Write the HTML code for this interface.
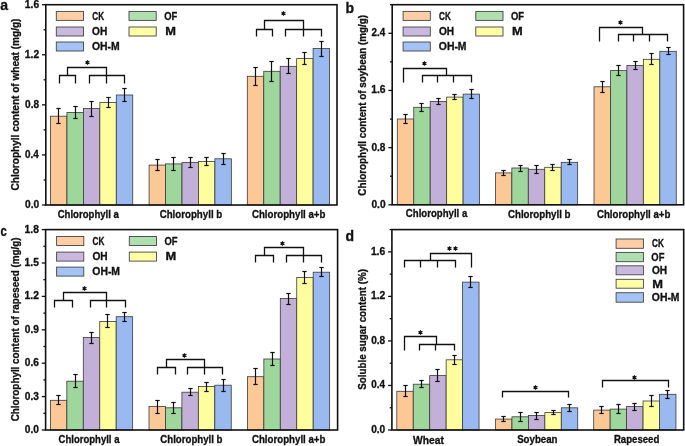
<!DOCTYPE html>
<html><head><meta charset="utf-8"><style>
html,body{margin:0;padding:0;background:#fff;}
svg{display:block;filter:grayscale(0);}
text{font-family:"Liberation Sans",sans-serif;font-weight:bold;fill:#111;stroke:#111;stroke-width:0.3px;}
</style></head><body>
<svg width="685" height="446" viewBox="0 0 685 446">
<rect width="685" height="446" fill="#fff"/>
<rect x="50.50" y="116.20" width="16.45" height="88.80" fill="#FCC895" stroke="#3a3a3a" stroke-width="0.8"/>
<rect x="66.95" y="112.40" width="16.45" height="92.60" fill="#9ED69C" stroke="#3a3a3a" stroke-width="0.8"/>
<rect x="83.40" y="108.40" width="16.45" height="96.60" fill="#C2B0D8" stroke="#3a3a3a" stroke-width="0.8"/>
<rect x="99.85" y="102.40" width="16.45" height="102.60" fill="#FFFE9E" stroke="#3a3a3a" stroke-width="0.8"/>
<rect x="116.30" y="95.00" width="16.45" height="110.00" fill="#99B9F0" stroke="#3a3a3a" stroke-width="0.8"/>
<rect x="149.10" y="165.10" width="16.45" height="39.90" fill="#FCC895" stroke="#3a3a3a" stroke-width="0.8"/>
<rect x="165.55" y="163.90" width="16.45" height="41.10" fill="#9ED69C" stroke="#3a3a3a" stroke-width="0.8"/>
<rect x="182.00" y="162.60" width="16.45" height="42.40" fill="#C2B0D8" stroke="#3a3a3a" stroke-width="0.8"/>
<rect x="198.45" y="161.50" width="16.45" height="43.50" fill="#FFFE9E" stroke="#3a3a3a" stroke-width="0.8"/>
<rect x="214.90" y="158.80" width="16.45" height="46.20" fill="#99B9F0" stroke="#3a3a3a" stroke-width="0.8"/>
<rect x="247.30" y="76.30" width="16.45" height="128.70" fill="#FCC895" stroke="#3a3a3a" stroke-width="0.8"/>
<rect x="263.75" y="71.30" width="16.45" height="133.70" fill="#9ED69C" stroke="#3a3a3a" stroke-width="0.8"/>
<rect x="280.20" y="66.30" width="16.45" height="138.70" fill="#C2B0D8" stroke="#3a3a3a" stroke-width="0.8"/>
<rect x="296.65" y="58.60" width="16.45" height="146.40" fill="#FFFE9E" stroke="#3a3a3a" stroke-width="0.8"/>
<rect x="313.10" y="48.50" width="16.45" height="156.50" fill="#99B9F0" stroke="#3a3a3a" stroke-width="0.8"/>
<line x1="58.50" y1="108.50" x2="58.50" y2="123.50" stroke="#111" stroke-width="1.2"/>
<line x1="56.30" y1="108.50" x2="60.70" y2="108.50" stroke="#111" stroke-width="1.2"/>
<line x1="56.30" y1="123.50" x2="60.70" y2="123.50" stroke="#111" stroke-width="1.2"/>
<line x1="75.50" y1="106.50" x2="75.50" y2="118.50" stroke="#111" stroke-width="1.2"/>
<line x1="73.30" y1="106.50" x2="77.70" y2="106.50" stroke="#111" stroke-width="1.2"/>
<line x1="73.30" y1="118.50" x2="77.70" y2="118.50" stroke="#111" stroke-width="1.2"/>
<line x1="91.50" y1="101.50" x2="91.50" y2="116.50" stroke="#111" stroke-width="1.2"/>
<line x1="89.30" y1="101.50" x2="93.70" y2="101.50" stroke="#111" stroke-width="1.2"/>
<line x1="89.30" y1="116.50" x2="93.70" y2="116.50" stroke="#111" stroke-width="1.2"/>
<line x1="108.50" y1="97.50" x2="108.50" y2="107.50" stroke="#111" stroke-width="1.2"/>
<line x1="106.30" y1="97.50" x2="110.70" y2="97.50" stroke="#111" stroke-width="1.2"/>
<line x1="106.30" y1="107.50" x2="110.70" y2="107.50" stroke="#111" stroke-width="1.2"/>
<line x1="124.50" y1="88.50" x2="124.50" y2="101.50" stroke="#111" stroke-width="1.2"/>
<line x1="122.30" y1="88.50" x2="126.70" y2="88.50" stroke="#111" stroke-width="1.2"/>
<line x1="122.30" y1="101.50" x2="126.70" y2="101.50" stroke="#111" stroke-width="1.2"/>
<line x1="157.50" y1="159.50" x2="157.50" y2="170.50" stroke="#111" stroke-width="1.2"/>
<line x1="155.30" y1="159.50" x2="159.70" y2="159.50" stroke="#111" stroke-width="1.2"/>
<line x1="155.30" y1="170.50" x2="159.70" y2="170.50" stroke="#111" stroke-width="1.2"/>
<line x1="173.50" y1="157.50" x2="173.50" y2="170.50" stroke="#111" stroke-width="1.2"/>
<line x1="171.30" y1="157.50" x2="175.70" y2="157.50" stroke="#111" stroke-width="1.2"/>
<line x1="171.30" y1="170.50" x2="175.70" y2="170.50" stroke="#111" stroke-width="1.2"/>
<line x1="190.50" y1="157.50" x2="190.50" y2="167.50" stroke="#111" stroke-width="1.2"/>
<line x1="188.30" y1="157.50" x2="192.70" y2="157.50" stroke="#111" stroke-width="1.2"/>
<line x1="188.30" y1="167.50" x2="192.70" y2="167.50" stroke="#111" stroke-width="1.2"/>
<line x1="206.50" y1="157.50" x2="206.50" y2="165.50" stroke="#111" stroke-width="1.2"/>
<line x1="204.30" y1="157.50" x2="208.70" y2="157.50" stroke="#111" stroke-width="1.2"/>
<line x1="204.30" y1="165.50" x2="208.70" y2="165.50" stroke="#111" stroke-width="1.2"/>
<line x1="223.50" y1="153.50" x2="223.50" y2="164.50" stroke="#111" stroke-width="1.2"/>
<line x1="221.30" y1="153.50" x2="225.70" y2="153.50" stroke="#111" stroke-width="1.2"/>
<line x1="221.30" y1="164.50" x2="225.70" y2="164.50" stroke="#111" stroke-width="1.2"/>
<line x1="255.50" y1="67.50" x2="255.50" y2="85.50" stroke="#111" stroke-width="1.2"/>
<line x1="253.30" y1="67.50" x2="257.70" y2="67.50" stroke="#111" stroke-width="1.2"/>
<line x1="253.30" y1="85.50" x2="257.70" y2="85.50" stroke="#111" stroke-width="1.2"/>
<line x1="271.50" y1="61.50" x2="271.50" y2="81.50" stroke="#111" stroke-width="1.2"/>
<line x1="269.30" y1="61.50" x2="273.70" y2="61.50" stroke="#111" stroke-width="1.2"/>
<line x1="269.30" y1="81.50" x2="273.70" y2="81.50" stroke="#111" stroke-width="1.2"/>
<line x1="288.50" y1="58.50" x2="288.50" y2="73.50" stroke="#111" stroke-width="1.2"/>
<line x1="286.30" y1="58.50" x2="290.70" y2="58.50" stroke="#111" stroke-width="1.2"/>
<line x1="286.30" y1="73.50" x2="290.70" y2="73.50" stroke="#111" stroke-width="1.2"/>
<line x1="304.50" y1="52.50" x2="304.50" y2="64.50" stroke="#111" stroke-width="1.2"/>
<line x1="302.30" y1="52.50" x2="306.70" y2="52.50" stroke="#111" stroke-width="1.2"/>
<line x1="302.30" y1="64.50" x2="306.70" y2="64.50" stroke="#111" stroke-width="1.2"/>
<line x1="321.50" y1="41.50" x2="321.50" y2="56.50" stroke="#111" stroke-width="1.2"/>
<line x1="319.30" y1="41.50" x2="323.70" y2="41.50" stroke="#111" stroke-width="1.2"/>
<line x1="319.30" y1="56.50" x2="323.70" y2="56.50" stroke="#111" stroke-width="1.2"/>
<rect x="45.80" y="4.70" width="291.20" height="200.30" fill="none" stroke="#111" stroke-width="1.6"/>
<line x1="42.00" y1="205.00" x2="45.80" y2="205.00" stroke="#111" stroke-width="1.3"/>
<text x="25.05" y="207.90" font-size="10" textLength="14.12" lengthAdjust="spacingAndGlyphs" >0.0</text>
<line x1="43.60" y1="179.96" x2="45.80" y2="179.96" stroke="#111" stroke-width="1.3"/>
<line x1="42.00" y1="154.93" x2="45.80" y2="154.93" stroke="#111" stroke-width="1.3"/>
<text x="25.06" y="157.83" font-size="10" textLength="13.74" lengthAdjust="spacingAndGlyphs" >0.4</text>
<line x1="43.60" y1="129.89" x2="45.80" y2="129.89" stroke="#111" stroke-width="1.3"/>
<line x1="42.00" y1="104.85" x2="45.80" y2="104.85" stroke="#111" stroke-width="1.3"/>
<text x="25.05" y="107.75" font-size="10" textLength="14.01" lengthAdjust="spacingAndGlyphs" >0.8</text>
<line x1="43.60" y1="79.81" x2="45.80" y2="79.81" stroke="#111" stroke-width="1.3"/>
<line x1="42.00" y1="54.77" x2="45.80" y2="54.77" stroke="#111" stroke-width="1.3"/>
<text x="24.80" y="57.67" font-size="10" textLength="14.36" lengthAdjust="spacingAndGlyphs" >1.2</text>
<line x1="43.60" y1="29.74" x2="45.80" y2="29.74" stroke="#111" stroke-width="1.3"/>
<line x1="42.00" y1="4.70" x2="45.80" y2="4.70" stroke="#111" stroke-width="1.3"/>
<text x="24.80" y="7.60" font-size="10" textLength="14.32" lengthAdjust="spacingAndGlyphs" >1.6</text>
<polyline points="59.50,83.50 59.50,75.50 75.50,75.50 75.50,83.50" fill="none" stroke="#111" stroke-width="1.3" stroke-linejoin="miter" stroke-linecap="butt"/>
<polyline points="89.50,83.50 89.50,75.50 124.50,75.50 124.50,83.50" fill="none" stroke="#111" stroke-width="1.3" stroke-linejoin="miter" stroke-linecap="butt"/>
<polyline points="106.50,83.50 106.50,67.50 67.50,67.50 67.50,75.50" fill="none" stroke="#111" stroke-width="1.3" stroke-linejoin="miter" stroke-linecap="butt"/>
<polyline points="256.50,36.50 256.50,29.50 272.50,29.50 272.50,36.50" fill="none" stroke="#111" stroke-width="1.3" stroke-linejoin="miter" stroke-linecap="butt"/>
<polyline points="285.50,36.50 285.50,29.50 321.50,29.50 321.50,36.50" fill="none" stroke="#111" stroke-width="1.3" stroke-linejoin="miter" stroke-linecap="butt"/>
<polyline points="303.50,36.50 303.50,20.50 264.50,20.50 264.50,29.50" fill="none" stroke="#111" stroke-width="1.3" stroke-linejoin="miter" stroke-linecap="butt"/>
<path d="M87.50,60.25L87.50,64.75M85.55,61.38L89.45,63.62M85.55,63.62L89.45,61.38" stroke="#111" stroke-width="1.2" fill="none"/>
<path d="M283.50,11.25L283.50,15.75M281.55,12.38L285.45,14.62M281.55,14.62L285.45,12.38" stroke="#111" stroke-width="1.2" fill="none"/>
<text x="57.66" y="217.60" font-size="10" textLength="61.23" lengthAdjust="spacingAndGlyphs" >Chlorophyll a</text>
<text x="159.65" y="217.70" font-size="10" textLength="62.60" lengthAdjust="spacingAndGlyphs" >Chlorophyll b</text>
<text x="251.95" y="217.70" font-size="10" textLength="73.49" lengthAdjust="spacingAndGlyphs" >Chlorophyll a+b</text>
<text x="19.20" y="190.46" font-size="10" textLength="171.91" lengthAdjust="spacingAndGlyphs" transform="rotate(-90 19.20 190.46)" >Chlorophyll content of wheat (mg/g)</text>
<rect x="56.30" y="11.40" width="27.20" height="9.00" fill="#FFCEA4" stroke="#444" stroke-width="0.9"/>
<text x="92.31" y="19.70" font-size="10" textLength="11.81" lengthAdjust="spacingAndGlyphs" >CK</text>
<rect x="129.00" y="11.40" width="27.20" height="9.00" fill="#B0DFAF" stroke="#444" stroke-width="0.9"/>
<text x="164.27" y="19.70" font-size="10" textLength="13.03" lengthAdjust="spacingAndGlyphs" >OF</text>
<rect x="56.30" y="27.00" width="27.20" height="9.00" fill="#CBB8DF" stroke="#444" stroke-width="0.9"/>
<text x="92.13" y="35.30" font-size="10" textLength="15.20" lengthAdjust="spacingAndGlyphs" >OH</text>
<rect x="129.00" y="27.00" width="27.20" height="9.00" fill="#FFFFA6" stroke="#444" stroke-width="0.9"/>
<text x="165.19" y="35.30" font-size="10" textLength="10.72" lengthAdjust="spacingAndGlyphs" >M</text>
<rect x="56.30" y="42.00" width="27.20" height="9.00" fill="#A4C2F4" stroke="#444" stroke-width="0.9"/>
<text x="92.02" y="50.30" font-size="10" textLength="27.72" lengthAdjust="spacingAndGlyphs" >OH-M</text>
<text x="0.20" y="9.80" font-size="14" >a</text>
<rect x="397.30" y="119.00" width="16.45" height="85.80" fill="#FCC895" stroke="#3a3a3a" stroke-width="0.8"/>
<rect x="413.75" y="107.30" width="16.45" height="97.50" fill="#9ED69C" stroke="#3a3a3a" stroke-width="0.8"/>
<rect x="430.20" y="101.40" width="16.45" height="103.40" fill="#C2B0D8" stroke="#3a3a3a" stroke-width="0.8"/>
<rect x="446.65" y="97.10" width="16.45" height="107.70" fill="#FFFE9E" stroke="#3a3a3a" stroke-width="0.8"/>
<rect x="463.10" y="94.10" width="16.45" height="110.70" fill="#99B9F0" stroke="#3a3a3a" stroke-width="0.8"/>
<rect x="495.40" y="172.90" width="16.45" height="31.90" fill="#FCC895" stroke="#3a3a3a" stroke-width="0.8"/>
<rect x="511.85" y="168.00" width="16.45" height="36.80" fill="#9ED69C" stroke="#3a3a3a" stroke-width="0.8"/>
<rect x="528.30" y="169.30" width="16.45" height="35.50" fill="#C2B0D8" stroke="#3a3a3a" stroke-width="0.8"/>
<rect x="544.75" y="167.30" width="16.45" height="37.50" fill="#FFFE9E" stroke="#3a3a3a" stroke-width="0.8"/>
<rect x="561.20" y="162.30" width="16.45" height="42.50" fill="#99B9F0" stroke="#3a3a3a" stroke-width="0.8"/>
<rect x="594.00" y="86.80" width="16.45" height="118.00" fill="#FCC895" stroke="#3a3a3a" stroke-width="0.8"/>
<rect x="610.45" y="70.60" width="16.45" height="134.20" fill="#9ED69C" stroke="#3a3a3a" stroke-width="0.8"/>
<rect x="626.90" y="65.40" width="16.45" height="139.40" fill="#C2B0D8" stroke="#3a3a3a" stroke-width="0.8"/>
<rect x="643.35" y="59.30" width="16.45" height="145.50" fill="#FFFE9E" stroke="#3a3a3a" stroke-width="0.8"/>
<rect x="659.80" y="51.30" width="16.45" height="153.50" fill="#99B9F0" stroke="#3a3a3a" stroke-width="0.8"/>
<line x1="405.50" y1="114.50" x2="405.50" y2="123.50" stroke="#111" stroke-width="1.2"/>
<line x1="403.30" y1="114.50" x2="407.70" y2="114.50" stroke="#111" stroke-width="1.2"/>
<line x1="403.30" y1="123.50" x2="407.70" y2="123.50" stroke="#111" stroke-width="1.2"/>
<line x1="421.50" y1="103.50" x2="421.50" y2="111.50" stroke="#111" stroke-width="1.2"/>
<line x1="419.30" y1="103.50" x2="423.70" y2="103.50" stroke="#111" stroke-width="1.2"/>
<line x1="419.30" y1="111.50" x2="423.70" y2="111.50" stroke="#111" stroke-width="1.2"/>
<line x1="438.50" y1="98.50" x2="438.50" y2="104.50" stroke="#111" stroke-width="1.2"/>
<line x1="436.30" y1="98.50" x2="440.70" y2="98.50" stroke="#111" stroke-width="1.2"/>
<line x1="436.30" y1="104.50" x2="440.70" y2="104.50" stroke="#111" stroke-width="1.2"/>
<line x1="454.50" y1="94.50" x2="454.50" y2="99.50" stroke="#111" stroke-width="1.2"/>
<line x1="452.30" y1="94.50" x2="456.70" y2="94.50" stroke="#111" stroke-width="1.2"/>
<line x1="452.30" y1="99.50" x2="456.70" y2="99.50" stroke="#111" stroke-width="1.2"/>
<line x1="471.50" y1="89.50" x2="471.50" y2="98.50" stroke="#111" stroke-width="1.2"/>
<line x1="469.30" y1="89.50" x2="473.70" y2="89.50" stroke="#111" stroke-width="1.2"/>
<line x1="469.30" y1="98.50" x2="473.70" y2="98.50" stroke="#111" stroke-width="1.2"/>
<line x1="503.50" y1="170.50" x2="503.50" y2="175.50" stroke="#111" stroke-width="1.2"/>
<line x1="501.30" y1="170.50" x2="505.70" y2="170.50" stroke="#111" stroke-width="1.2"/>
<line x1="501.30" y1="175.50" x2="505.70" y2="175.50" stroke="#111" stroke-width="1.2"/>
<line x1="520.50" y1="165.50" x2="520.50" y2="171.50" stroke="#111" stroke-width="1.2"/>
<line x1="518.30" y1="165.50" x2="522.70" y2="165.50" stroke="#111" stroke-width="1.2"/>
<line x1="518.30" y1="171.50" x2="522.70" y2="171.50" stroke="#111" stroke-width="1.2"/>
<line x1="536.50" y1="165.50" x2="536.50" y2="173.50" stroke="#111" stroke-width="1.2"/>
<line x1="534.30" y1="165.50" x2="538.70" y2="165.50" stroke="#111" stroke-width="1.2"/>
<line x1="534.30" y1="173.50" x2="538.70" y2="173.50" stroke="#111" stroke-width="1.2"/>
<line x1="552.50" y1="164.50" x2="552.50" y2="170.50" stroke="#111" stroke-width="1.2"/>
<line x1="550.30" y1="164.50" x2="554.70" y2="164.50" stroke="#111" stroke-width="1.2"/>
<line x1="550.30" y1="170.50" x2="554.70" y2="170.50" stroke="#111" stroke-width="1.2"/>
<line x1="569.50" y1="159.50" x2="569.50" y2="164.50" stroke="#111" stroke-width="1.2"/>
<line x1="567.30" y1="159.50" x2="571.70" y2="159.50" stroke="#111" stroke-width="1.2"/>
<line x1="567.30" y1="164.50" x2="571.70" y2="164.50" stroke="#111" stroke-width="1.2"/>
<line x1="602.50" y1="81.50" x2="602.50" y2="92.50" stroke="#111" stroke-width="1.2"/>
<line x1="600.30" y1="81.50" x2="604.70" y2="81.50" stroke="#111" stroke-width="1.2"/>
<line x1="600.30" y1="92.50" x2="604.70" y2="92.50" stroke="#111" stroke-width="1.2"/>
<line x1="618.50" y1="65.50" x2="618.50" y2="75.50" stroke="#111" stroke-width="1.2"/>
<line x1="616.30" y1="65.50" x2="620.70" y2="65.50" stroke="#111" stroke-width="1.2"/>
<line x1="616.30" y1="75.50" x2="620.70" y2="75.50" stroke="#111" stroke-width="1.2"/>
<line x1="635.50" y1="61.50" x2="635.50" y2="69.50" stroke="#111" stroke-width="1.2"/>
<line x1="633.30" y1="61.50" x2="637.70" y2="61.50" stroke="#111" stroke-width="1.2"/>
<line x1="633.30" y1="69.50" x2="637.70" y2="69.50" stroke="#111" stroke-width="1.2"/>
<line x1="651.50" y1="53.50" x2="651.50" y2="64.50" stroke="#111" stroke-width="1.2"/>
<line x1="649.30" y1="53.50" x2="653.70" y2="53.50" stroke="#111" stroke-width="1.2"/>
<line x1="649.30" y1="64.50" x2="653.70" y2="64.50" stroke="#111" stroke-width="1.2"/>
<line x1="668.50" y1="47.50" x2="668.50" y2="54.50" stroke="#111" stroke-width="1.2"/>
<line x1="666.30" y1="47.50" x2="670.70" y2="47.50" stroke="#111" stroke-width="1.2"/>
<line x1="666.30" y1="54.50" x2="670.70" y2="54.50" stroke="#111" stroke-width="1.2"/>
<rect x="392.20" y="4.70" width="291.40" height="200.10" fill="none" stroke="#111" stroke-width="1.6"/>
<line x1="388.40" y1="204.80" x2="392.20" y2="204.80" stroke="#111" stroke-width="1.3"/>
<text x="371.45" y="207.70" font-size="10" textLength="14.12" lengthAdjust="spacingAndGlyphs" >0.0</text>
<line x1="390.00" y1="176.21" x2="392.20" y2="176.21" stroke="#111" stroke-width="1.3"/>
<line x1="388.40" y1="147.63" x2="392.20" y2="147.63" stroke="#111" stroke-width="1.3"/>
<text x="371.45" y="150.53" font-size="10" textLength="14.01" lengthAdjust="spacingAndGlyphs" >0.8</text>
<line x1="390.00" y1="119.04" x2="392.20" y2="119.04" stroke="#111" stroke-width="1.3"/>
<line x1="388.40" y1="90.46" x2="392.20" y2="90.46" stroke="#111" stroke-width="1.3"/>
<text x="371.20" y="93.36" font-size="10" textLength="14.32" lengthAdjust="spacingAndGlyphs" >1.6</text>
<line x1="390.00" y1="61.87" x2="392.20" y2="61.87" stroke="#111" stroke-width="1.3"/>
<line x1="388.40" y1="33.29" x2="392.20" y2="33.29" stroke="#111" stroke-width="1.3"/>
<text x="371.51" y="36.19" font-size="10" textLength="13.69" lengthAdjust="spacingAndGlyphs" >2.4</text>
<line x1="390.00" y1="4.70" x2="392.20" y2="4.70" stroke="#111" stroke-width="1.3"/>
<polyline points="403.50,82.50 403.50,68.50 446.50,68.50 446.50,75.50" fill="none" stroke="#111" stroke-width="1.3" stroke-linejoin="miter" stroke-linecap="butt"/>
<polyline points="422.50,82.50 422.50,75.50 471.50,75.50 471.50,82.50" fill="none" stroke="#111" stroke-width="1.3" stroke-linejoin="miter" stroke-linecap="butt"/>
<polyline points="437.50,75.50 437.50,82.50" fill="none" stroke="#111" stroke-width="1.3" stroke-linejoin="miter" stroke-linecap="butt"/>
<polyline points="453.50,75.50 453.50,82.50" fill="none" stroke="#111" stroke-width="1.3" stroke-linejoin="miter" stroke-linecap="butt"/>
<polyline points="599.50,41.50 599.50,27.50 642.50,27.50 642.50,34.50" fill="none" stroke="#111" stroke-width="1.3" stroke-linejoin="miter" stroke-linecap="butt"/>
<polyline points="618.50,41.50 618.50,34.50 667.50,34.50 667.50,41.50" fill="none" stroke="#111" stroke-width="1.3" stroke-linejoin="miter" stroke-linecap="butt"/>
<polyline points="633.50,34.50 633.50,41.50" fill="none" stroke="#111" stroke-width="1.3" stroke-linejoin="miter" stroke-linecap="butt"/>
<polyline points="649.50,34.50 649.50,41.50" fill="none" stroke="#111" stroke-width="1.3" stroke-linejoin="miter" stroke-linecap="butt"/>
<path d="M424.50,61.25L424.50,65.75M422.55,62.38L426.45,64.62M422.55,64.62L426.45,62.38" stroke="#111" stroke-width="1.2" fill="none"/>
<path d="M620.50,20.25L620.50,24.75M618.55,21.38L622.45,23.62M618.55,23.62L622.45,21.38" stroke="#111" stroke-width="1.2" fill="none"/>
<text x="405.86" y="217.40" font-size="10" textLength="61.43" lengthAdjust="spacingAndGlyphs" >Chlorophyll a</text>
<text x="507.95" y="217.60" font-size="10" textLength="62.60" lengthAdjust="spacingAndGlyphs" >Chlorophyll b</text>
<text x="596.95" y="217.50" font-size="10" textLength="73.49" lengthAdjust="spacingAndGlyphs" >Chlorophyll a+b</text>
<text x="365.60" y="195.65" font-size="10" textLength="180.70" lengthAdjust="spacingAndGlyphs" transform="rotate(-90 365.60 195.65)" >Chlorophyll content of soybean (mg/g)</text>
<rect x="403.10" y="11.40" width="27.20" height="9.00" fill="#FFCEA4" stroke="#444" stroke-width="0.9"/>
<text x="439.11" y="19.70" font-size="10" textLength="11.81" lengthAdjust="spacingAndGlyphs" >CK</text>
<rect x="475.80" y="11.40" width="27.20" height="9.00" fill="#B0DFAF" stroke="#444" stroke-width="0.9"/>
<text x="511.07" y="19.70" font-size="10" textLength="13.03" lengthAdjust="spacingAndGlyphs" >OF</text>
<rect x="403.10" y="27.00" width="27.20" height="9.00" fill="#CBB8DF" stroke="#444" stroke-width="0.9"/>
<text x="438.93" y="35.30" font-size="10" textLength="15.20" lengthAdjust="spacingAndGlyphs" >OH</text>
<rect x="475.80" y="27.00" width="27.20" height="9.00" fill="#FFFFA6" stroke="#444" stroke-width="0.9"/>
<text x="511.99" y="35.30" font-size="10" textLength="10.72" lengthAdjust="spacingAndGlyphs" >M</text>
<rect x="403.10" y="42.00" width="27.20" height="9.00" fill="#A4C2F4" stroke="#444" stroke-width="0.9"/>
<text x="438.82" y="50.30" font-size="10" textLength="27.72" lengthAdjust="spacingAndGlyphs" >OH-M</text>
<text x="345.50" y="12.50" font-size="14" >b</text>
<rect x="50.40" y="400.30" width="16.45" height="29.70" fill="#FCC895" stroke="#3a3a3a" stroke-width="0.8"/>
<rect x="66.85" y="381.20" width="16.45" height="48.80" fill="#9ED69C" stroke="#3a3a3a" stroke-width="0.8"/>
<rect x="83.30" y="337.40" width="16.45" height="92.60" fill="#C2B0D8" stroke="#3a3a3a" stroke-width="0.8"/>
<rect x="99.75" y="321.40" width="16.45" height="108.60" fill="#FFFE9E" stroke="#3a3a3a" stroke-width="0.8"/>
<rect x="116.20" y="316.70" width="16.45" height="113.30" fill="#99B9F0" stroke="#3a3a3a" stroke-width="0.8"/>
<rect x="149.00" y="406.50" width="16.45" height="23.50" fill="#FCC895" stroke="#3a3a3a" stroke-width="0.8"/>
<rect x="165.45" y="407.80" width="16.45" height="22.20" fill="#9ED69C" stroke="#3a3a3a" stroke-width="0.8"/>
<rect x="181.90" y="392.20" width="16.45" height="37.80" fill="#C2B0D8" stroke="#3a3a3a" stroke-width="0.8"/>
<rect x="198.35" y="386.50" width="16.45" height="43.50" fill="#FFFE9E" stroke="#3a3a3a" stroke-width="0.8"/>
<rect x="214.80" y="385.20" width="16.45" height="44.80" fill="#99B9F0" stroke="#3a3a3a" stroke-width="0.8"/>
<rect x="247.40" y="376.70" width="16.45" height="53.30" fill="#FCC895" stroke="#3a3a3a" stroke-width="0.8"/>
<rect x="263.85" y="359.00" width="16.45" height="71.00" fill="#9ED69C" stroke="#3a3a3a" stroke-width="0.8"/>
<rect x="280.30" y="298.40" width="16.45" height="131.60" fill="#C2B0D8" stroke="#3a3a3a" stroke-width="0.8"/>
<rect x="296.75" y="277.40" width="16.45" height="152.60" fill="#FFFE9E" stroke="#3a3a3a" stroke-width="0.8"/>
<rect x="313.20" y="272.20" width="16.45" height="157.80" fill="#99B9F0" stroke="#3a3a3a" stroke-width="0.8"/>
<line x1="58.50" y1="395.50" x2="58.50" y2="404.50" stroke="#111" stroke-width="1.2"/>
<line x1="56.30" y1="395.50" x2="60.70" y2="395.50" stroke="#111" stroke-width="1.2"/>
<line x1="56.30" y1="404.50" x2="60.70" y2="404.50" stroke="#111" stroke-width="1.2"/>
<line x1="75.50" y1="374.50" x2="75.50" y2="387.50" stroke="#111" stroke-width="1.2"/>
<line x1="73.30" y1="374.50" x2="77.70" y2="374.50" stroke="#111" stroke-width="1.2"/>
<line x1="73.30" y1="387.50" x2="77.70" y2="387.50" stroke="#111" stroke-width="1.2"/>
<line x1="91.50" y1="332.50" x2="91.50" y2="343.50" stroke="#111" stroke-width="1.2"/>
<line x1="89.30" y1="332.50" x2="93.70" y2="332.50" stroke="#111" stroke-width="1.2"/>
<line x1="89.30" y1="343.50" x2="93.70" y2="343.50" stroke="#111" stroke-width="1.2"/>
<line x1="107.50" y1="314.50" x2="107.50" y2="327.50" stroke="#111" stroke-width="1.2"/>
<line x1="105.30" y1="314.50" x2="109.70" y2="314.50" stroke="#111" stroke-width="1.2"/>
<line x1="105.30" y1="327.50" x2="109.70" y2="327.50" stroke="#111" stroke-width="1.2"/>
<line x1="124.50" y1="312.50" x2="124.50" y2="321.50" stroke="#111" stroke-width="1.2"/>
<line x1="122.30" y1="312.50" x2="126.70" y2="312.50" stroke="#111" stroke-width="1.2"/>
<line x1="122.30" y1="321.50" x2="126.70" y2="321.50" stroke="#111" stroke-width="1.2"/>
<line x1="157.50" y1="400.50" x2="157.50" y2="413.50" stroke="#111" stroke-width="1.2"/>
<line x1="155.30" y1="400.50" x2="159.70" y2="400.50" stroke="#111" stroke-width="1.2"/>
<line x1="155.30" y1="413.50" x2="159.70" y2="413.50" stroke="#111" stroke-width="1.2"/>
<line x1="173.50" y1="402.50" x2="173.50" y2="413.50" stroke="#111" stroke-width="1.2"/>
<line x1="171.30" y1="402.50" x2="175.70" y2="402.50" stroke="#111" stroke-width="1.2"/>
<line x1="171.30" y1="413.50" x2="175.70" y2="413.50" stroke="#111" stroke-width="1.2"/>
<line x1="190.50" y1="388.50" x2="190.50" y2="395.50" stroke="#111" stroke-width="1.2"/>
<line x1="188.30" y1="388.50" x2="192.70" y2="388.50" stroke="#111" stroke-width="1.2"/>
<line x1="188.30" y1="395.50" x2="192.70" y2="395.50" stroke="#111" stroke-width="1.2"/>
<line x1="206.50" y1="382.50" x2="206.50" y2="391.50" stroke="#111" stroke-width="1.2"/>
<line x1="204.30" y1="382.50" x2="208.70" y2="382.50" stroke="#111" stroke-width="1.2"/>
<line x1="204.30" y1="391.50" x2="208.70" y2="391.50" stroke="#111" stroke-width="1.2"/>
<line x1="223.50" y1="379.50" x2="223.50" y2="391.50" stroke="#111" stroke-width="1.2"/>
<line x1="221.30" y1="379.50" x2="225.70" y2="379.50" stroke="#111" stroke-width="1.2"/>
<line x1="221.30" y1="391.50" x2="225.70" y2="391.50" stroke="#111" stroke-width="1.2"/>
<line x1="255.50" y1="368.50" x2="255.50" y2="384.50" stroke="#111" stroke-width="1.2"/>
<line x1="253.30" y1="368.50" x2="257.70" y2="368.50" stroke="#111" stroke-width="1.2"/>
<line x1="253.30" y1="384.50" x2="257.70" y2="384.50" stroke="#111" stroke-width="1.2"/>
<line x1="272.50" y1="352.50" x2="272.50" y2="365.50" stroke="#111" stroke-width="1.2"/>
<line x1="270.30" y1="352.50" x2="274.70" y2="352.50" stroke="#111" stroke-width="1.2"/>
<line x1="270.30" y1="365.50" x2="274.70" y2="365.50" stroke="#111" stroke-width="1.2"/>
<line x1="288.50" y1="293.50" x2="288.50" y2="304.50" stroke="#111" stroke-width="1.2"/>
<line x1="286.30" y1="293.50" x2="290.70" y2="293.50" stroke="#111" stroke-width="1.2"/>
<line x1="286.30" y1="304.50" x2="290.70" y2="304.50" stroke="#111" stroke-width="1.2"/>
<line x1="304.50" y1="271.50" x2="304.50" y2="283.50" stroke="#111" stroke-width="1.2"/>
<line x1="302.30" y1="271.50" x2="306.70" y2="271.50" stroke="#111" stroke-width="1.2"/>
<line x1="302.30" y1="283.50" x2="306.70" y2="283.50" stroke="#111" stroke-width="1.2"/>
<line x1="321.50" y1="267.50" x2="321.50" y2="276.50" stroke="#111" stroke-width="1.2"/>
<line x1="319.30" y1="267.50" x2="323.70" y2="267.50" stroke="#111" stroke-width="1.2"/>
<line x1="319.30" y1="276.50" x2="323.70" y2="276.50" stroke="#111" stroke-width="1.2"/>
<rect x="45.60" y="229.60" width="292.00" height="200.40" fill="none" stroke="#111" stroke-width="1.6"/>
<line x1="41.80" y1="430.00" x2="45.60" y2="430.00" stroke="#111" stroke-width="1.3"/>
<text x="24.85" y="432.90" font-size="10" textLength="14.12" lengthAdjust="spacingAndGlyphs" >0.0</text>
<line x1="43.40" y1="413.30" x2="45.60" y2="413.30" stroke="#111" stroke-width="1.3"/>
<line x1="41.80" y1="396.60" x2="45.60" y2="396.60" stroke="#111" stroke-width="1.3"/>
<text x="24.85" y="399.50" font-size="10" textLength="14.07" lengthAdjust="spacingAndGlyphs" >0.3</text>
<line x1="43.40" y1="379.90" x2="45.60" y2="379.90" stroke="#111" stroke-width="1.3"/>
<line x1="41.80" y1="363.20" x2="45.60" y2="363.20" stroke="#111" stroke-width="1.3"/>
<text x="24.85" y="366.10" font-size="10" textLength="14.07" lengthAdjust="spacingAndGlyphs" >0.6</text>
<line x1="43.40" y1="346.50" x2="45.60" y2="346.50" stroke="#111" stroke-width="1.3"/>
<line x1="41.80" y1="329.80" x2="45.60" y2="329.80" stroke="#111" stroke-width="1.3"/>
<text x="24.85" y="332.70" font-size="10" textLength="14.08" lengthAdjust="spacingAndGlyphs" >0.9</text>
<line x1="43.40" y1="313.10" x2="45.60" y2="313.10" stroke="#111" stroke-width="1.3"/>
<line x1="41.80" y1="296.40" x2="45.60" y2="296.40" stroke="#111" stroke-width="1.3"/>
<text x="24.60" y="299.30" font-size="10" textLength="14.36" lengthAdjust="spacingAndGlyphs" >1.2</text>
<line x1="43.40" y1="279.70" x2="45.60" y2="279.70" stroke="#111" stroke-width="1.3"/>
<line x1="41.80" y1="263.00" x2="45.60" y2="263.00" stroke="#111" stroke-width="1.3"/>
<text x="24.61" y="265.90" font-size="10" textLength="14.23" lengthAdjust="spacingAndGlyphs" >1.5</text>
<line x1="43.40" y1="246.30" x2="45.60" y2="246.30" stroke="#111" stroke-width="1.3"/>
<line x1="41.80" y1="229.60" x2="45.60" y2="229.60" stroke="#111" stroke-width="1.3"/>
<text x="24.60" y="232.50" font-size="10" textLength="14.26" lengthAdjust="spacingAndGlyphs" >1.8</text>
<polyline points="54.50,307.50 54.50,300.50 72.50,300.50 72.50,307.50" fill="none" stroke="#111" stroke-width="1.3" stroke-linejoin="miter" stroke-linecap="butt"/>
<polyline points="90.50,307.50 90.50,300.50 125.50,300.50 125.50,307.50" fill="none" stroke="#111" stroke-width="1.3" stroke-linejoin="miter" stroke-linecap="butt"/>
<polyline points="106.50,307.50 106.50,292.50 63.50,292.50 63.50,300.50" fill="none" stroke="#111" stroke-width="1.3" stroke-linejoin="miter" stroke-linecap="butt"/>
<polyline points="157.50,374.50 157.50,367.50 175.50,367.50 175.50,374.50" fill="none" stroke="#111" stroke-width="1.3" stroke-linejoin="miter" stroke-linecap="butt"/>
<polyline points="187.50,374.50 187.50,367.50 222.50,367.50 222.50,374.50" fill="none" stroke="#111" stroke-width="1.3" stroke-linejoin="miter" stroke-linecap="butt"/>
<polyline points="204.50,374.50 204.50,359.50 166.50,359.50 166.50,367.50" fill="none" stroke="#111" stroke-width="1.3" stroke-linejoin="miter" stroke-linecap="butt"/>
<polyline points="255.50,262.50 255.50,255.50 273.50,255.50 273.50,262.50" fill="none" stroke="#111" stroke-width="1.3" stroke-linejoin="miter" stroke-linecap="butt"/>
<polyline points="286.50,262.50 286.50,255.50 321.50,255.50 321.50,262.50" fill="none" stroke="#111" stroke-width="1.3" stroke-linejoin="miter" stroke-linecap="butt"/>
<polyline points="303.50,262.50 303.50,247.50 264.50,247.50 264.50,255.50" fill="none" stroke="#111" stroke-width="1.3" stroke-linejoin="miter" stroke-linecap="butt"/>
<path d="M84.50,286.25L84.50,290.75M82.55,287.38L86.45,289.62M82.55,289.62L86.45,287.38" stroke="#111" stroke-width="1.2" fill="none"/>
<path d="M184.50,353.25L184.50,357.75M182.55,354.38L186.45,356.62M182.55,356.62L186.45,354.38" stroke="#111" stroke-width="1.2" fill="none"/>
<path d="M282.50,241.25L282.50,245.75M280.55,242.38L284.45,244.62M280.55,244.62L284.45,242.38" stroke="#111" stroke-width="1.2" fill="none"/>
<text x="58.56" y="443.10" font-size="10" textLength="60.93" lengthAdjust="spacingAndGlyphs" >Chlorophyll a</text>
<text x="160.25" y="443.10" font-size="10" textLength="62.29" lengthAdjust="spacingAndGlyphs" >Chlorophyll b</text>
<text x="251.95" y="443.10" font-size="10" textLength="73.49" lengthAdjust="spacingAndGlyphs" >Chlorophyll a+b</text>
<text x="19.20" y="421.35" font-size="10" textLength="183.89" lengthAdjust="spacingAndGlyphs" transform="rotate(-90 19.20 421.35)" >Chlorophyll content of rapeseed (mg/g)</text>
<rect x="56.60" y="236.50" width="27.20" height="9.00" fill="#FFCEA4" stroke="#444" stroke-width="0.9"/>
<text x="92.61" y="244.80" font-size="10" textLength="11.81" lengthAdjust="spacingAndGlyphs" >CK</text>
<rect x="129.30" y="236.50" width="27.20" height="9.00" fill="#B0DFAF" stroke="#444" stroke-width="0.9"/>
<text x="164.57" y="244.80" font-size="10" textLength="13.03" lengthAdjust="spacingAndGlyphs" >OF</text>
<rect x="56.60" y="252.10" width="27.20" height="9.00" fill="#CBB8DF" stroke="#444" stroke-width="0.9"/>
<text x="92.43" y="260.40" font-size="10" textLength="15.20" lengthAdjust="spacingAndGlyphs" >OH</text>
<rect x="129.30" y="252.10" width="27.20" height="9.00" fill="#FFFFA6" stroke="#444" stroke-width="0.9"/>
<text x="165.49" y="260.40" font-size="10" textLength="10.72" lengthAdjust="spacingAndGlyphs" >M</text>
<rect x="56.60" y="267.10" width="27.20" height="9.00" fill="#A4C2F4" stroke="#444" stroke-width="0.9"/>
<text x="92.32" y="275.40" font-size="10" textLength="27.72" lengthAdjust="spacingAndGlyphs" >OH-M</text>
<text x="0.46" y="235.60" font-size="14" textLength="6.27" lengthAdjust="spacingAndGlyphs" >c</text>
<rect x="396.80" y="391.30" width="16.45" height="38.70" fill="#FCC895" stroke="#3a3a3a" stroke-width="0.8"/>
<rect x="413.25" y="384.20" width="16.45" height="45.80" fill="#9ED69C" stroke="#3a3a3a" stroke-width="0.8"/>
<rect x="429.70" y="375.60" width="16.45" height="54.40" fill="#C2B0D8" stroke="#3a3a3a" stroke-width="0.8"/>
<rect x="446.15" y="359.80" width="16.45" height="70.20" fill="#FFFE9E" stroke="#3a3a3a" stroke-width="0.8"/>
<rect x="462.60" y="282.10" width="16.45" height="147.90" fill="#99B9F0" stroke="#3a3a3a" stroke-width="0.8"/>
<rect x="495.50" y="419.10" width="16.45" height="10.90" fill="#FCC895" stroke="#3a3a3a" stroke-width="0.8"/>
<rect x="511.95" y="416.80" width="16.45" height="13.20" fill="#9ED69C" stroke="#3a3a3a" stroke-width="0.8"/>
<rect x="528.40" y="415.50" width="16.45" height="14.50" fill="#C2B0D8" stroke="#3a3a3a" stroke-width="0.8"/>
<rect x="544.85" y="412.60" width="16.45" height="17.40" fill="#FFFE9E" stroke="#3a3a3a" stroke-width="0.8"/>
<rect x="561.30" y="407.80" width="16.45" height="22.20" fill="#99B9F0" stroke="#3a3a3a" stroke-width="0.8"/>
<rect x="593.70" y="410.10" width="16.45" height="19.90" fill="#FCC895" stroke="#3a3a3a" stroke-width="0.8"/>
<rect x="610.15" y="409.10" width="16.45" height="20.90" fill="#9ED69C" stroke="#3a3a3a" stroke-width="0.8"/>
<rect x="626.60" y="406.60" width="16.45" height="23.40" fill="#C2B0D8" stroke="#3a3a3a" stroke-width="0.8"/>
<rect x="643.05" y="401.00" width="16.45" height="29.00" fill="#FFFE9E" stroke="#3a3a3a" stroke-width="0.8"/>
<rect x="659.50" y="394.30" width="16.45" height="35.70" fill="#99B9F0" stroke="#3a3a3a" stroke-width="0.8"/>
<line x1="405.50" y1="385.50" x2="405.50" y2="396.50" stroke="#111" stroke-width="1.2"/>
<line x1="403.30" y1="385.50" x2="407.70" y2="385.50" stroke="#111" stroke-width="1.2"/>
<line x1="403.30" y1="396.50" x2="407.70" y2="396.50" stroke="#111" stroke-width="1.2"/>
<line x1="421.50" y1="380.50" x2="421.50" y2="387.50" stroke="#111" stroke-width="1.2"/>
<line x1="419.30" y1="380.50" x2="423.70" y2="380.50" stroke="#111" stroke-width="1.2"/>
<line x1="419.30" y1="387.50" x2="423.70" y2="387.50" stroke="#111" stroke-width="1.2"/>
<line x1="437.50" y1="369.50" x2="437.50" y2="381.50" stroke="#111" stroke-width="1.2"/>
<line x1="435.30" y1="369.50" x2="439.70" y2="369.50" stroke="#111" stroke-width="1.2"/>
<line x1="435.30" y1="381.50" x2="439.70" y2="381.50" stroke="#111" stroke-width="1.2"/>
<line x1="454.50" y1="355.50" x2="454.50" y2="364.50" stroke="#111" stroke-width="1.2"/>
<line x1="452.30" y1="355.50" x2="456.70" y2="355.50" stroke="#111" stroke-width="1.2"/>
<line x1="452.30" y1="364.50" x2="456.70" y2="364.50" stroke="#111" stroke-width="1.2"/>
<line x1="470.50" y1="276.50" x2="470.50" y2="287.50" stroke="#111" stroke-width="1.2"/>
<line x1="468.30" y1="276.50" x2="472.70" y2="276.50" stroke="#111" stroke-width="1.2"/>
<line x1="468.30" y1="287.50" x2="472.70" y2="287.50" stroke="#111" stroke-width="1.2"/>
<line x1="503.50" y1="416.50" x2="503.50" y2="421.50" stroke="#111" stroke-width="1.2"/>
<line x1="501.30" y1="416.50" x2="505.70" y2="416.50" stroke="#111" stroke-width="1.2"/>
<line x1="501.30" y1="421.50" x2="505.70" y2="421.50" stroke="#111" stroke-width="1.2"/>
<line x1="520.50" y1="412.50" x2="520.50" y2="421.50" stroke="#111" stroke-width="1.2"/>
<line x1="518.30" y1="412.50" x2="522.70" y2="412.50" stroke="#111" stroke-width="1.2"/>
<line x1="518.30" y1="421.50" x2="522.70" y2="421.50" stroke="#111" stroke-width="1.2"/>
<line x1="536.50" y1="412.50" x2="536.50" y2="419.50" stroke="#111" stroke-width="1.2"/>
<line x1="534.30" y1="412.50" x2="538.70" y2="412.50" stroke="#111" stroke-width="1.2"/>
<line x1="534.30" y1="419.50" x2="538.70" y2="419.50" stroke="#111" stroke-width="1.2"/>
<line x1="553.50" y1="410.50" x2="553.50" y2="414.50" stroke="#111" stroke-width="1.2"/>
<line x1="551.30" y1="410.50" x2="555.70" y2="410.50" stroke="#111" stroke-width="1.2"/>
<line x1="551.30" y1="414.50" x2="555.70" y2="414.50" stroke="#111" stroke-width="1.2"/>
<line x1="569.50" y1="404.50" x2="569.50" y2="411.50" stroke="#111" stroke-width="1.2"/>
<line x1="567.30" y1="404.50" x2="571.70" y2="404.50" stroke="#111" stroke-width="1.2"/>
<line x1="567.30" y1="411.50" x2="571.70" y2="411.50" stroke="#111" stroke-width="1.2"/>
<line x1="601.50" y1="406.50" x2="601.50" y2="413.50" stroke="#111" stroke-width="1.2"/>
<line x1="599.30" y1="406.50" x2="603.70" y2="406.50" stroke="#111" stroke-width="1.2"/>
<line x1="599.30" y1="413.50" x2="603.70" y2="413.50" stroke="#111" stroke-width="1.2"/>
<line x1="618.50" y1="404.50" x2="618.50" y2="413.50" stroke="#111" stroke-width="1.2"/>
<line x1="616.30" y1="404.50" x2="620.70" y2="404.50" stroke="#111" stroke-width="1.2"/>
<line x1="616.30" y1="413.50" x2="620.70" y2="413.50" stroke="#111" stroke-width="1.2"/>
<line x1="634.50" y1="403.50" x2="634.50" y2="410.50" stroke="#111" stroke-width="1.2"/>
<line x1="632.30" y1="403.50" x2="636.70" y2="403.50" stroke="#111" stroke-width="1.2"/>
<line x1="632.30" y1="410.50" x2="636.70" y2="410.50" stroke="#111" stroke-width="1.2"/>
<line x1="651.50" y1="395.50" x2="651.50" y2="406.50" stroke="#111" stroke-width="1.2"/>
<line x1="649.30" y1="395.50" x2="653.70" y2="395.50" stroke="#111" stroke-width="1.2"/>
<line x1="649.30" y1="406.50" x2="653.70" y2="406.50" stroke="#111" stroke-width="1.2"/>
<line x1="667.50" y1="390.50" x2="667.50" y2="398.50" stroke="#111" stroke-width="1.2"/>
<line x1="665.30" y1="390.50" x2="669.70" y2="390.50" stroke="#111" stroke-width="1.2"/>
<line x1="665.30" y1="398.50" x2="669.70" y2="398.50" stroke="#111" stroke-width="1.2"/>
<rect x="391.90" y="229.60" width="291.80" height="200.40" fill="none" stroke="#111" stroke-width="1.6"/>
<line x1="388.10" y1="430.00" x2="391.90" y2="430.00" stroke="#111" stroke-width="1.3"/>
<text x="371.15" y="432.90" font-size="10" textLength="14.12" lengthAdjust="spacingAndGlyphs" >0.0</text>
<line x1="389.70" y1="407.73" x2="391.90" y2="407.73" stroke="#111" stroke-width="1.3"/>
<line x1="388.10" y1="385.47" x2="391.90" y2="385.47" stroke="#111" stroke-width="1.3"/>
<text x="371.16" y="388.37" font-size="10" textLength="13.74" lengthAdjust="spacingAndGlyphs" >0.4</text>
<line x1="389.70" y1="363.20" x2="391.90" y2="363.20" stroke="#111" stroke-width="1.3"/>
<line x1="388.10" y1="340.93" x2="391.90" y2="340.93" stroke="#111" stroke-width="1.3"/>
<text x="371.15" y="343.83" font-size="10" textLength="14.01" lengthAdjust="spacingAndGlyphs" >0.8</text>
<line x1="389.70" y1="318.67" x2="391.90" y2="318.67" stroke="#111" stroke-width="1.3"/>
<line x1="388.10" y1="296.40" x2="391.90" y2="296.40" stroke="#111" stroke-width="1.3"/>
<text x="370.90" y="299.30" font-size="10" textLength="14.36" lengthAdjust="spacingAndGlyphs" >1.2</text>
<line x1="389.70" y1="274.13" x2="391.90" y2="274.13" stroke="#111" stroke-width="1.3"/>
<line x1="388.10" y1="251.87" x2="391.90" y2="251.87" stroke="#111" stroke-width="1.3"/>
<text x="370.90" y="254.77" font-size="10" textLength="14.32" lengthAdjust="spacingAndGlyphs" >1.6</text>
<line x1="389.70" y1="229.60" x2="391.90" y2="229.60" stroke="#111" stroke-width="1.3"/>
<polyline points="404.50,350.50 404.50,336.50 436.50,336.50 436.50,344.50" fill="none" stroke="#111" stroke-width="1.3" stroke-linejoin="miter" stroke-linecap="butt"/>
<polyline points="419.50,350.50 419.50,344.50 454.50,344.50 454.50,350.50" fill="none" stroke="#111" stroke-width="1.3" stroke-linejoin="miter" stroke-linecap="butt"/>
<polyline points="435.50,344.50 435.50,350.50" fill="none" stroke="#111" stroke-width="1.3" stroke-linejoin="miter" stroke-linecap="butt"/>
<polyline points="404.50,267.50 404.50,260.50 455.50,260.50 455.50,267.50" fill="none" stroke="#111" stroke-width="1.3" stroke-linejoin="miter" stroke-linecap="butt"/>
<polyline points="420.50,260.50 420.50,267.50" fill="none" stroke="#111" stroke-width="1.3" stroke-linejoin="miter" stroke-linecap="butt"/>
<polyline points="437.50,260.50 437.50,267.50" fill="none" stroke="#111" stroke-width="1.3" stroke-linejoin="miter" stroke-linecap="butt"/>
<polyline points="430.50,260.50 430.50,253.50 471.50,253.50 471.50,267.50" fill="none" stroke="#111" stroke-width="1.3" stroke-linejoin="miter" stroke-linecap="butt"/>
<polyline points="502.50,397.50 502.50,391.50 568.50,391.50 568.50,397.50" fill="none" stroke="#111" stroke-width="1.3" stroke-linejoin="miter" stroke-linecap="butt"/>
<polyline points="602.50,387.50 602.50,380.50 668.50,380.50 668.50,387.50" fill="none" stroke="#111" stroke-width="1.3" stroke-linejoin="miter" stroke-linecap="butt"/>
<path d="M420.50,330.25L420.50,334.75M418.55,331.38L422.45,333.62M418.55,333.62L422.45,331.38" stroke="#111" stroke-width="1.2" fill="none"/>
<path d="M449.50,246.25L449.50,250.75M447.55,247.38L451.45,249.62M447.55,249.62L451.45,247.38" stroke="#111" stroke-width="1.2" fill="none"/>
<path d="M455.50,246.25L455.50,250.75M453.55,247.38L457.45,249.62M453.55,249.62L457.45,247.38" stroke="#111" stroke-width="1.2" fill="none"/>
<path d="M535.50,385.25L535.50,389.75M533.55,386.38L537.45,388.62M533.55,388.62L537.45,386.38" stroke="#111" stroke-width="1.2" fill="none"/>
<path d="M634.50,375.25L634.50,379.75M632.55,376.38L636.45,378.62M632.55,378.62L636.45,376.38" stroke="#111" stroke-width="1.2" fill="none"/>
<text x="413.04" y="443.70" font-size="10" textLength="30.84" lengthAdjust="spacingAndGlyphs" >Wheat</text>
<text x="517.17" y="442.50" font-size="10" textLength="40.38" lengthAdjust="spacingAndGlyphs" >Soybean</text>
<text x="613.91" y="443.20" font-size="10" textLength="45.38" lengthAdjust="spacingAndGlyphs" >Rapeseed</text>
<text x="365.90" y="389.73" font-size="10" textLength="120.67" lengthAdjust="spacingAndGlyphs" transform="rotate(-90 365.90 389.73)" >Soluble sugar content (%)</text>
<rect x="616.10" y="239.00" width="27.30" height="9.30" fill="#FFCEA4" stroke="#444" stroke-width="0.9"/>
<text x="652.11" y="247.45" font-size="10" textLength="11.81" lengthAdjust="spacingAndGlyphs" >CK</text>
<rect x="616.10" y="252.40" width="27.30" height="9.30" fill="#B0DFAF" stroke="#444" stroke-width="0.9"/>
<text x="651.37" y="260.85" font-size="10" textLength="13.03" lengthAdjust="spacingAndGlyphs" >OF</text>
<rect x="616.10" y="265.80" width="27.30" height="9.00" fill="#CBB8DF" stroke="#444" stroke-width="0.9"/>
<text x="651.93" y="274.10" font-size="10" textLength="15.20" lengthAdjust="spacingAndGlyphs" >OH</text>
<rect x="616.10" y="279.30" width="27.30" height="8.90" fill="#FFFFA6" stroke="#444" stroke-width="0.9"/>
<text x="652.29" y="287.55" font-size="10" textLength="10.72" lengthAdjust="spacingAndGlyphs" >M</text>
<rect x="616.10" y="292.70" width="27.30" height="9.50" fill="#A4C2F4" stroke="#444" stroke-width="0.9"/>
<text x="651.82" y="301.25" font-size="10" textLength="27.72" lengthAdjust="spacingAndGlyphs" >OH-M</text>
<text x="345.50" y="241.30" font-size="14" >d</text>
</svg>
</body></html>
